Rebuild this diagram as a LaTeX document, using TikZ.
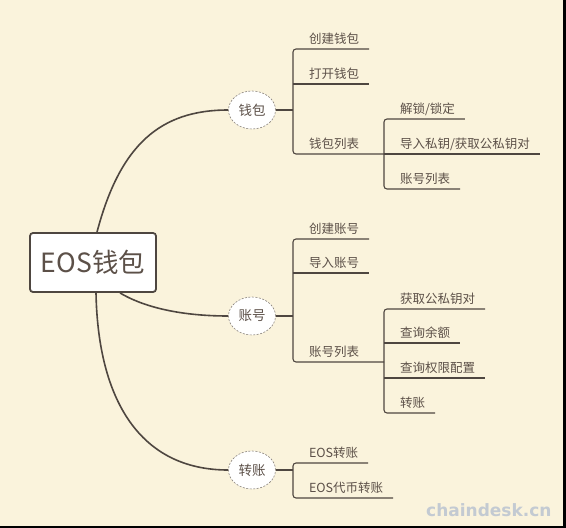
\documentclass[tikz,border=0pt]{standalone}
\usepackage{fontspec}
\setmainfont{Noto Sans CJK SC}
\newfontfamily\wmfont{DejaVu Sans}
\usetikzlibrary{shapes.geometric}
\definecolor{bg}{HTML}{FAF3DC}
\definecolor{txt}{HTML}{5C5048}
\definecolor{ln}{HTML}{4E4640}
\definecolor{wm}{HTML}{C3CAD2}
\definecolor{rim}{HTML}{8A837C}
\begin{document}
\begin{tikzpicture}[x=1pt,y=-1pt,
  lbl/.style={anchor=south west, inner xsep=0pt, inner ysep=5.8pt, outer sep=0pt, text depth=0pt, text=txt, font=\fontsize{12.5}{14}\selectfont},
  topic/.style={ellipse, draw=rim, line width=0.6pt, dash pattern=on 2pt off 1.5pt, fill=white, minimum width=47pt, minimum height=38pt, inner sep=0pt, text=txt, font=\fontsize{13.5}{15}\selectfont},
  rootbox/.style={draw=ln, line width=1.8pt, rounded corners=3pt, fill=white, minimum width=126pt, minimum height=59pt, inner sep=0pt, text=txt, font=\fontsize{26.5}{30}\selectfont},
  maincurve/.style={draw=ln, line width=1.6pt},
  stem/.style={draw=ln, line width=1.4pt},
  br/.style={draw=ln, line width=1.1pt, rounded corners=3pt},
]
\useasboundingbox (0,0) rectangle (566,528);
\fill[bg] (0,0) rectangle (566,528);

% root and topics
\node[rootbox] (root) at (93,262.5) {EOS钱包};
\node[topic] (w) at (252,110) {钱包};
\node[topic] (a) at (252,316) {账号};
\node[topic] (t) at (252,470) {转账};

% main curves
\draw[maincurve] ([xshift=4pt]root.north) .. controls (120,145) and (160,110) .. (w.west);
\draw[maincurve] ([xshift=27pt]root.south) .. controls (140,305) and (175,316) .. (a.west);
\draw[maincurve] ([xshift=3pt]root.south) .. controls (98,400) and (140,470) .. (t.west);

% junctions
\coordinate (j1) at (293,110);
\coordinate (j2) at (384,154);
\coordinate (j3) at (293,316);
\coordinate (j4) at (384,362);
\coordinate (j5) at (293,470);

% wallet labels
\node[lbl] (c1) at (309,49) {创建钱包};
\node[lbl] (c2) at (309,84) {打开钱包};
\node[lbl] (c3) at (309,154) {钱包列表};
\node[lbl] (s1) at (400,119) {解锁/锁定};
\node[lbl] (s2) at (400,154) {导入私钥/获取公私钥对};
\node[lbl] (s3) at (400,189) {账号列表};

% account labels
\node[lbl] (a1) at (309,239) {创建账号};
\node[lbl] (a2) at (309,273) {导入账号};
\node[lbl] (a3) at (309,362) {账号列表};
\node[lbl] (b1) at (400,309) {获取公私钥对};
\node[lbl] (b2) at (400,343) {查询余额};
\node[lbl] (b3) at (400,378) {查询权限配置};
\node[lbl] (b4) at (400,413) {转账};

% transfer labels
\node[lbl] (t1) at (309,463) {EOS转账};
\node[lbl] (t2) at (309,498) {EOS代币转账};

% wallet connectors
\draw[stem] (w.east) -- (j1);
\draw[br] ([xshift=10pt]c1.south east) -- (j1 |- c1.south) -- (j1 |- c3.south) -- (j2 |- c3.south);
\draw[br] (j1 |- c2.south) -- ([xshift=10pt]c2.south east);
\draw[br] ([xshift=10pt]s1.south east) -- (j2 |- s1.south) -- (j2 |- s3.south) -- ([xshift=10pt]s3.south east);
\draw[br] (j2) -- ([xshift=10pt]s2.south east);

% account connectors
\draw[stem] (a.east) -- (j3);
\draw[br] ([xshift=10pt]a1.south east) -- (j3 |- a1.south) -- (j3 |- a3.south) -- (j4 |- a3.south);
\draw[br] (j3 |- a2.south) -- ([xshift=10pt]a2.south east);
\draw[br] ([xshift=10pt]b1.south east) -- (j4 |- b1.south) -- (j4 |- b4.south) -- ([xshift=10pt]b4.south east);
\draw[br] (j4 |- b2.south) -- ([xshift=10pt]b2.south east);
\draw[br] (j4 |- b3.south) -- ([xshift=10pt]b3.south east);

% transfer connectors
\draw[stem] (t.east) -- (j5);
\draw[br] ([xshift=10pt]t1.south east) -- (j5 |- t1.south) -- (j5 |- t2.south) -- ([xshift=10pt]t2.south east);

% watermark
\node[anchor=base west, inner sep=0pt, text=wm, font=\wmfont\bfseries\fontsize{17}{20}\selectfont] (wmk) at (426,516.7) {chaindesk.cn};

% dark frame edges
\fill[black] (563,0) rectangle (566,528);
\fill[black] (0,526) rectangle (566,528);
\end{tikzpicture}
\end{document}
